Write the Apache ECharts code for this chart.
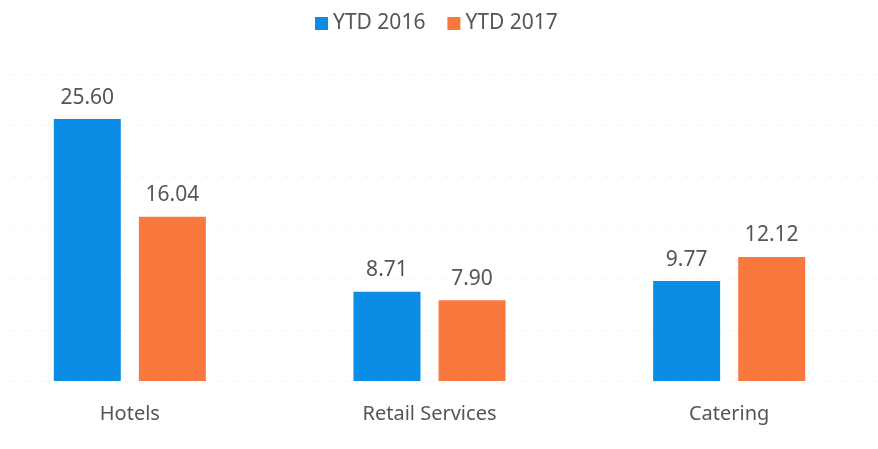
<!doctype html>
<html>
<head>
    <meta charset="utf-8">
    <title>YTD</title>
    <script src="https://cdn.jsdelivr.net/npm/echarts@6/dist/echarts.min.js"></script>
    <style>
        html, body { margin: 0; padding: 0; background: #fff; overflow: hidden; }
        #chart { width: 878px; height: 449px; }
    </style>
</head>
<body>
<div id="chart"></div>
<script>
    // data
    var categories = ['Hotels', 'Retail Services', 'Catering'];
    var ytd2016 = [25.60, 8.71, 9.77];
    var ytd2017 = [16.04, 7.90, 12.12];
    var seriesNames = ['YTD 2016', 'YTD 2017'];

    var myChart = echarts.init(document.getElementById('chart'));
    var labelStyle = {
        show: true,
        position: 'top',
        distance: 11,
        color: '#555',
        fontSize: 21,
        fontFamily: 'Noto Sans',
        formatter: function (p) { return p.value.toFixed(2); }
    };
    option = {
        animation: false,
        textStyle: { fontFamily: 'Noto Sans' },
        legend: {
            top: 8,
            left: 310,
            itemWidth: 13,
            itemHeight: 13,
            itemGap: 22,
            icon: 'rect',
            textStyle: { color: '#555', fontSize: 21, fontFamily: 'Noto Sans' },
            data: seriesNames
        },
        grid: { left: -20, right: -1, top: 74, bottom: 68, outerBoundsMode: 'none' },
        xAxis: {
            type: 'category',
            data: categories,
            axisLine: { show: false },
            axisTick: { show: false },
            axisLabel: { color: '#555', fontSize: 20, margin: 23 }
        },
        yAxis: {
            type: 'value',
            min: 0,
            max: 30,
            interval: 5,
            axisLabel: { show: false },
            splitLine: { lineStyle: { color: '#f4f4f4', type: [6, 10] } }
        },
        series: [
            {
                name: seriesNames[0],
                type: 'bar',
                data: ytd2016,
                barWidth: 67,
                barGap: '27%',
                itemStyle: { color: '#0b8de6' },
                label: labelStyle
            },
            {
                name: seriesNames[1],
                type: 'bar',
                data: ytd2017,
                barWidth: 67,
                itemStyle: { color: '#f8783e' },
                label: labelStyle
            }
        ]
    };
    myChart.setOption(option);
</script>
</body>
</html>
